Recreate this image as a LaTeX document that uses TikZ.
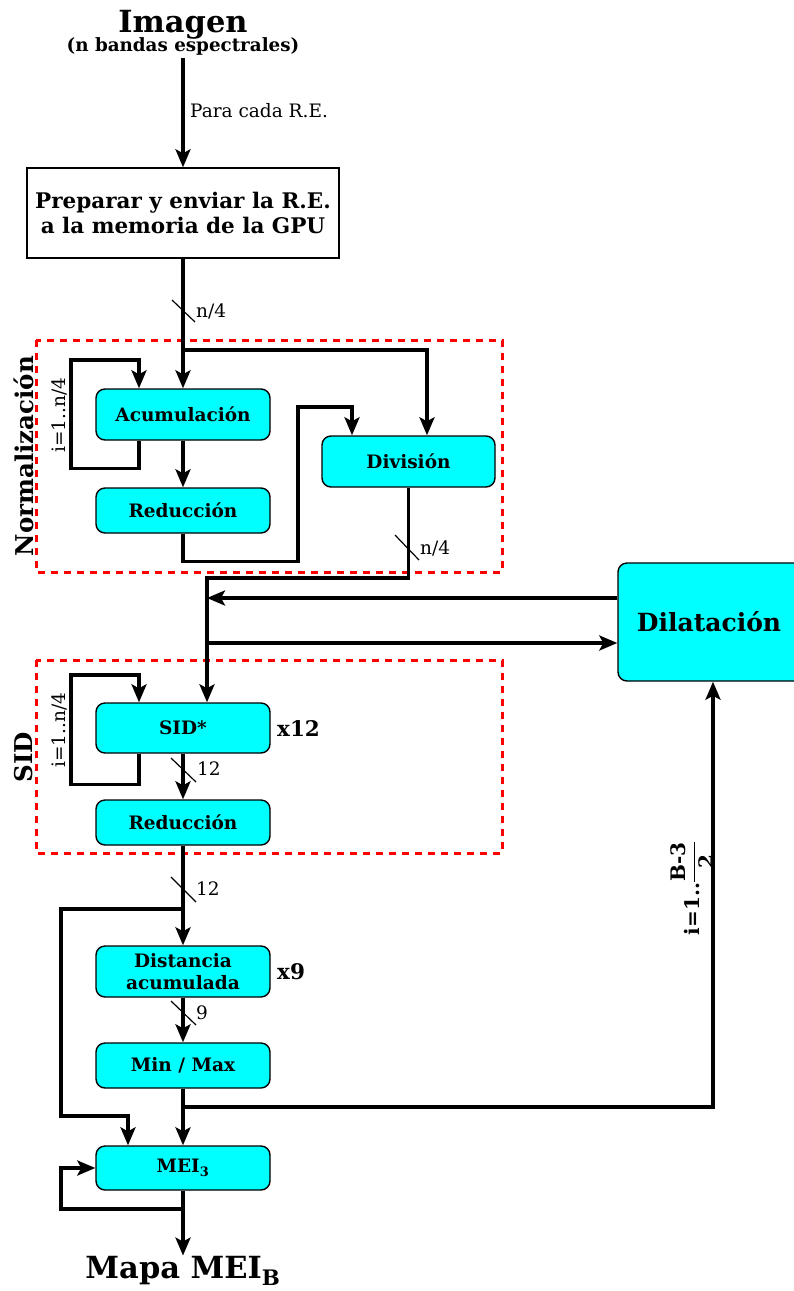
\documentclass[tikz,border=0pt]{standalone}
\usepackage{fontspec}
\usepackage{amsmath}
\setmainfont{DejaVu Serif}
\usetikzlibrary{arrows.meta}
\definecolor{aqua}{RGB}{0,255,255}
\newcommand\boxfnt{\bfseries\fontsize{18.5}{22}\selectfont}
\newcommand\prepfnt{\bfseries\fontsize{21.5}{25}\selectfont}
\newcommand\titfnt{\bfseries\fontsize{30.5}{34}\selectfont}
\newcommand\subfnt{\bfseries\fontsize{18.3}{21}\selectfont}
\newcommand\labfnt{\fontsize{18.5}{21}\selectfont}
\newcommand\grpfnt{\bfseries\fontsize{24.5}{28}\selectfont}
\newcommand\dilfnt{\bfseries\fontsize{25}{29}\selectfont}
\newcommand\mulfnt{\bfseries\fontsize{21.5}{25}\selectfont}
\newcommand\frcfnt{\bfseries\fontsize{20}{24}\selectfont}
\begin{document}
\begin{tikzpicture}[x=1pt,y=-1pt,
  conn/.style={line width=3.3pt},
  arr/.style={conn,-{Stealth[length=18pt,width=15pt,inset=4pt]}},
  proc/.style={draw,line width=1.4pt,fill=aqua,rounded corners=9pt,minimum width=174pt,font=\boxfnt,inner sep=0pt,align=center},
  grp/.style={draw=red,line width=3pt,dash pattern=on 7pt off 6pt},
  slash/.style={line width=1.2pt},
  lab/.style={font=\labfnt,anchor=west,inner sep=0pt},
]
\useasboundingbox (0,0) rectangle (793,1291);
% groups
\draw[grp] (36,340) rectangle (502,572);
\draw[grp] (36,660) rectangle (502,853);
% titles
\node[font=\titfnt,anchor=base,inner sep=0pt] (img) at (183,32) {Imagen};
\node[font=\subfnt,anchor=base,inner sep=0pt] (imgsub) at (183,51) {(n bandas espectrales)};
\node[font=\titfnt,anchor=base,inner sep=0pt] (mapa) at (183,1278) {Mapa MEI\textsubscript{B}};
% boxes
\node[draw,line width=1.4pt,minimum width=312pt,minimum height=90pt,font=\prepfnt,align=center] (prep) at (183,213) {Preparar y enviar la R.E.\\a la memoria de la GPU};
\node[proc,minimum height=51pt] (acum) at (183,414.5) {Acumulación};
\node[proc,minimum height=45pt] (red1) at (183,510.5) {Reducción};
\node[proc,minimum width=173pt,minimum height=51pt] (div) at (408.5,461.5) {División};
\node[proc,minimum height=50pt] (sid) at (183,728) {SID*};
\node[proc,minimum height=45pt] (red2) at (183,822.5) {Reducción};
\node[proc,minimum height=51pt] (dist) at (183,971.5) {Distancia\\acumulada};
\node[proc,minimum height=45pt] (mm) at (183,1065.5) {Min / Max};
\node[proc,minimum height=44pt] (mei) at (183,1168) {MEI\textsubscript{3}};
\node[proc,minimum width=190pt,minimum height=118pt,font=\dilfnt] (dil) at (713,622) {Dilatación\hspace*{8pt}};
% labels
\node[lab] (para) at (190,111) {Para cada R.E.};
\node[font=\grpfnt,rotate=90] (nlab) at (24,456) {Normalización};
\node[font=\grpfnt,rotate=90] (slab) at (24,757) {SID};
\node[font=\labfnt,rotate=90] (l1) at (59,415) {i=1..n/4};
\node[font=\labfnt,rotate=90] (l2) at (59,730) {i=1..n/4};
\node[font=\mulfnt,anchor=west,inner sep=0pt] (x12) at (277,729) {x12};
\node[font=\mulfnt,anchor=west,inner sep=0pt] (x9) at (277,972) {x9};
\node[font=\frcfnt,rotate=90] (il) at (692,888) {i=1..$\dfrac{\text{B-3}}{\text{2}}$};
% slashes and widths
\draw[slash] (172,300) -- (195,322);
\node[lab] (w1) at (196,311) {n/4};
\draw[slash] (395,535) -- (419,560);
\node[lab] (w2) at (420,548) {n/4};
\draw[slash] (171,758) -- (196,782);
\node[lab] (w3) at (197,769) {12};
\draw[slash] (171,877) -- (196,902);
\node[lab] (w4) at (196,889) {12};
\draw[slash] (171,1001) -- (196,1025);
\node[lab] (w5) at (196,1013) {9};
% connectors
\coordinate (b1) at (183,350);
\draw[arr] ([yshift=-3pt]imgsub.south) -- (prep.north);
\draw[arr] (prep.south) -- (acum.north);
\draw[arr] (b1) -| ([xshift=18.5pt]div.north);
\draw[arr] ([xshift=-44pt]acum.south) -- ++(0,28) -| (71,360) -| ([xshift=-44pt]acum.north);
\draw[arr] (acum) -- (red1);
\draw[arr] (red1.south) -- ++(0,28) -| (298,407) -| ([xshift=-56.5pt]div.north);
\coordinate (j1) at (207,578);
\draw[arr] (div.south) |- (j1) -- ([xshift=24pt]sid.north);
\coordinate (j2) at (207,598);
\draw[arr] ([yshift=24pt]dil.west) -- (j2);
\coordinate (j3) at (207,643);
\draw[arr] (j3) -- (j3 -| dil.west);
\draw[arr] ([xshift=-44pt]sid.south) -- ++(0,31) -| (71,675) -| ([xshift=-44pt]sid.north);
\draw[arr] (sid) -- (red2);
\draw[arr] (red2) -- (dist);
\coordinate (j4) at (183,909);
\draw[arr] (j4) -| (61,1116) -| ([xshift=-55pt]mei.north);
\draw[arr] (dist) -- (mm);
\draw[arr] (mm) -- (mei);
\coordinate (j5) at (183,1107);
\draw[arr] (j5) -| (dil.south);
\coordinate (j6) at (183,1209);
\draw[arr] (j6) -| (61,1168) -- (mei.west);
\draw[arr] (mei.south) -- (mapa.north);
\end{tikzpicture}
\end{document}
